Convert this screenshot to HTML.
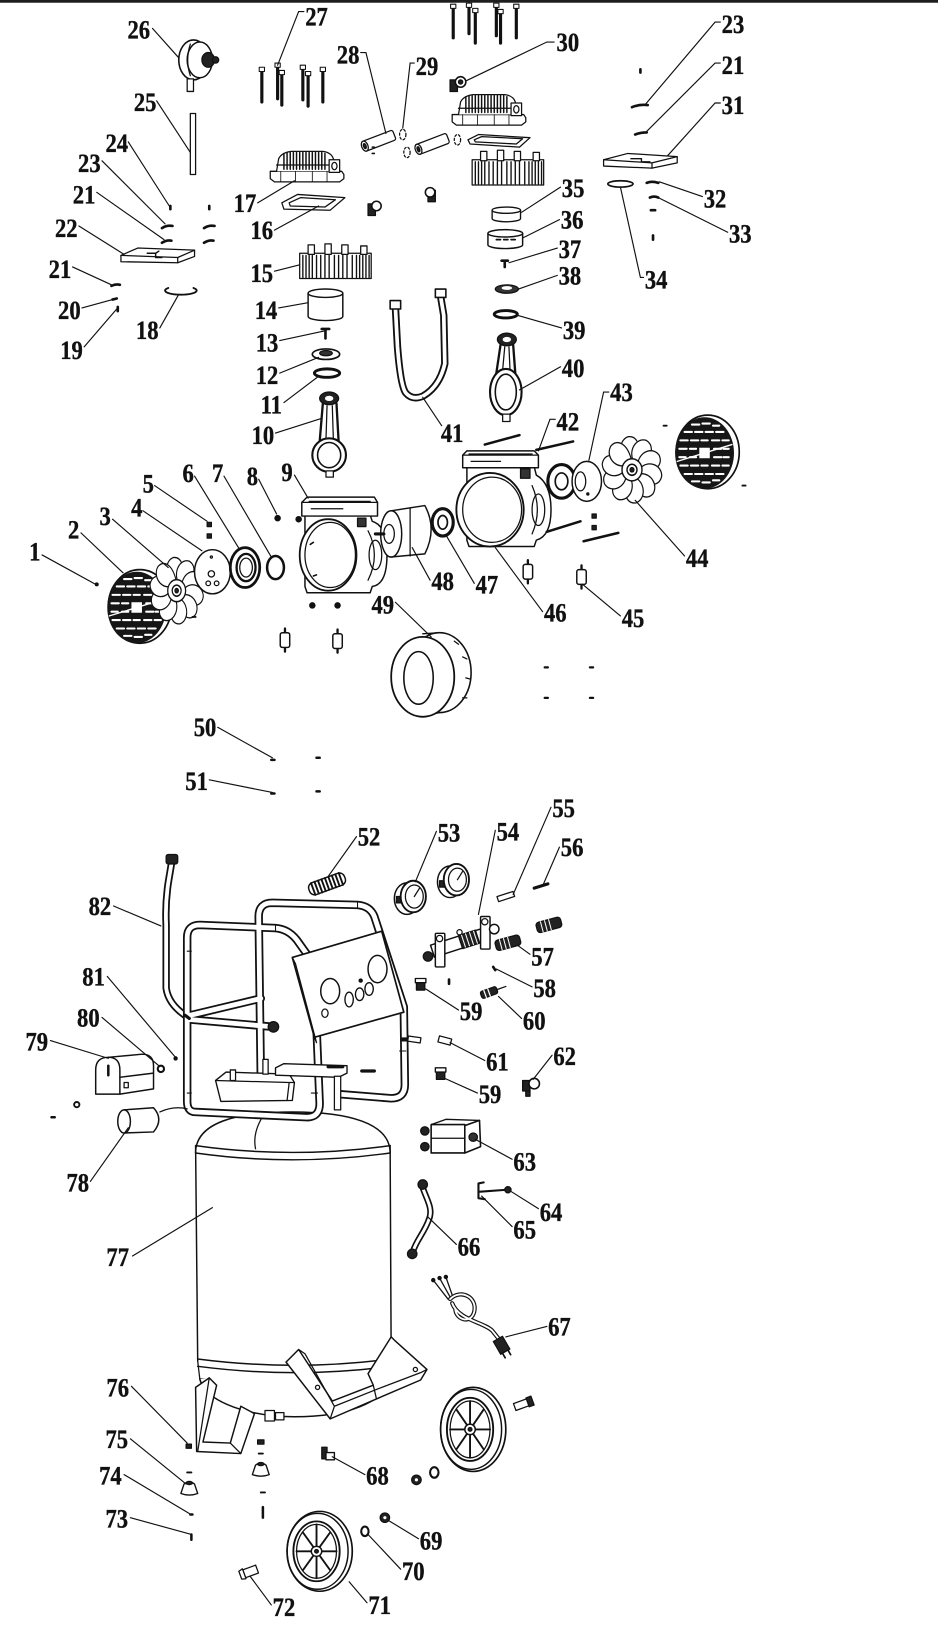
<!DOCTYPE html>
<html><head><meta charset="utf-8"><style>
html,body{margin:0;padding:0;background:#fff;}
svg{display:block;}
.t{font-family:"Liberation Serif",serif;font-weight:bold;font-size:25px;fill:#111;stroke:#111;stroke-width:0.35;}
</style></head><body>
<svg width="938" height="1648" viewBox="0 0 892 1568" preserveAspectRatio="none" xmlns="http://www.w3.org/2000/svg" xmlns:xlink="http://www.w3.org/1999/xlink">
<rect width="892" height="1568" fill="#fff"/>
<rect x="0" y="0" width="892" height="2.6" fill="#1e1e1e"/>
<defs>
 <g id="head">
  <path d="M0,20 L68,20 L70,23 L70,27 L66,30 L4,30 L0,27 Z" fill="#fff"/>
  <path d="M6,20 L8,8 Q11,2 20,1 L50,1 Q58,2 60,8 L62,20" fill="#fff"/>
  <path d="M13,3V18 M16,2.5V18 M19,2V18 M22,2V18 M25,2V18 M28,2V18 M31,2V18 M34,2V18 M37,2V18 M40,2V18 M43,2V18 M46,2V18 M49,2V18 M52,3V18" stroke-width="1.4"/>
  <path d="M6,14 H62"/>
  <rect x="56" y="9" width="10" height="12" fill="#fff"/>
  <ellipse cx="61" cy="15" rx="2.5" ry="3.5"/>
  <path d="M10,20 V30 M24,20V30 M40,20V30 M54,20V30" stroke-width="0.8"/>
 </g>
 <g id="vbox">
  <rect x="0" y="8" width="68" height="24" fill="#fff"/>
  <path d="M3,10V31 M6,10V31 M9,10V31 M12,10V31 M16,10V31 M20,10V31 M24,10V31 M28,10V31 M33,10V31 M37,10V31 M41,10V31 M45,10V31 M50,10V31 M54,10V31 M57,10V31 M60,10V31 M63,10V31 M66,10V31" stroke-width="1.3"/>
  <rect x="8" y="0" width="6" height="9" fill="#fff"/>
  <rect x="24" y="-1" width="6" height="10" fill="#fff"/>
  <rect x="40" y="0" width="6" height="9" fill="#fff"/>
  <rect x="58" y="1" width="6" height="8" fill="#fff"/>
 </g>
 <g id="grille">
  <ellipse cx="3" cy="-1" rx="30" ry="35" fill="#fff" stroke-width="1.6"/>
  <ellipse cx="0" cy="0" rx="28" ry="34" fill="#161616" stroke="none"/>
  <path d="M-12,-27h7 M-2,-28h7 M8,-26h6 M-19,-20h7 M-9,-20h7 M1,-20h7 M11,-20h7 M-23,-12h7 M-13,-12h7 M-3,-12h6 M7,-12h7 M17,-12h6 M-24,-4h7 M-14,-4h6 M9,-4h7 M18,-4h5 M-24,4h6 M-14,4h6 M9,4h7 M18,4h5 M-23,12h7 M-13,12h7 M-3,12h6 M7,12h7 M17,12h6 M-19,20h7 M-9,20h7 M1,20h7 M11,20h7 M-12,27h7 M-2,28h7 M8,26h6" stroke="#fff" stroke-width="2"/>
  <path d="M-26,8 Q0,0 26,-8" stroke="#fff" stroke-width="1.3"/>
  <rect x="-5" y="-5" width="10" height="10" fill="#fff" stroke="none"/>
 </g>
 <path id="blade" d="M-5,-8 C-14,-14 -13,-27 -4,-30 C5,-31 10,-22 5,-8 Z" fill="#fff"/>
 <g id="fan">
  <use href="#blade"/>
  <use href="#blade" transform="rotate(36)"/>
  <use href="#blade" transform="rotate(72)"/>
  <use href="#blade" transform="rotate(108)"/>
  <use href="#blade" transform="rotate(144)"/>
  <use href="#blade" transform="rotate(180)"/>
  <use href="#blade" transform="rotate(216)"/>
  <use href="#blade" transform="rotate(252)"/>
  <use href="#blade" transform="rotate(288)"/>
  <use href="#blade" transform="rotate(324)"/>
  <circle r="10" fill="#fff" stroke-width="1.4"/>
  <circle r="5" fill="#fff" stroke-width="1.4"/>
  <circle r="2" fill="#222"/>
 </g>
 <g id="mount">
  <path d="M0,-11V-7 M0,7V11" stroke-width="2.2"/>
  <rect x="-4.5" y="-7" width="9" height="14" rx="2" fill="#fff" stroke-width="1.4"/>
 </g>
 <g id="wheel">
  <ellipse cx="2" cy="0" rx="31" ry="40" fill="#fff" stroke-width="1.6"/>
  <ellipse cx="0" cy="0" rx="29" ry="38" stroke-width="1.4"/>
  <ellipse cx="-1" cy="0" rx="22" ry="30" stroke-width="1.8"/>
  <ellipse cx="-1" cy="0" rx="19" ry="27"/>
  <path d="M-1,-27V27 M-20,0H18 M-14,-19L12,19 M-14,19L12,-19" stroke-width="1.8"/>
  <circle cx="-1" cy="0" r="5" fill="#fff" stroke-width="1.4"/>
  <circle cx="-1" cy="0" r="1.8" fill="#222"/>
 </g>
 <g id="foot">
  <path d="M-8,5 L-5,-4 Q0,-8 5,-4 L8,5 Q0,8 -8,5 Z" fill="#fff" stroke-width="1.3"/>
  <ellipse cx="0" cy="-5" rx="3" ry="1.5" fill="#222"/>
 </g>
</defs>

<g stroke="#111" fill="none" stroke-width="1.2" stroke-linecap="round" stroke-linejoin="round">
<ellipse cx="184" cy="57" rx="14" ry="19" fill="#fff" stroke-width="1.5"/>
<ellipse cx="190" cy="57" rx="12" ry="17" fill="#fff" stroke-width="1.4"/>
<path d="M181,42 Q176,57 181,72"/>
<ellipse cx="198" cy="57" rx="6" ry="7" fill="#222"/>
<circle cx="205" cy="57" r="3" fill="#222"/>
<rect x="178" y="75" width="6" height="12" fill="#fff"/>
<rect x="181" y="108" width="5" height="58" fill="#fff"/>
<path d="M249,67V97 M264,63V94 M268,70V100 M288,65V95 M293,71V101 M307,67V97 M431,6V36 M446,4V32 M452,11V41 M472,5V34 M476,12V41 M491,6V36" stroke-width="3"/>
<path fill="#fff" stroke-width="1" d="M246.5,64h5v4h-5z M261.5,60h5v4h-5z M265.5,67h5v4h-5z M285.5,62h5v4h-5z M290.5,68h5v4h-5z M304.5,64h5v4h-5z M428.5,4h5v4h-5z M443.5,3h5v4h-5z M449.5,8h5v4h-5z M469.5,3h5v4h-5z M473.5,9h5v4h-5z M488.5,4h5v4h-5z"/>
<rect x="428" y="76" width="7" height="11" fill="#222"/>
<circle cx="438" cy="78" r="5" fill="#fff" stroke-width="1.5"/>
<circle cx="438" cy="78" r="2" fill="#222"/>
<use href="#head" transform="translate(430,89)"/>
<use href="#head" transform="translate(257,143)"/>
<path d="M445,133 L455,128 L504,131 L494,140 L447,137 Z" fill="#fff"/>
<path d="M451,133 L458,130 L497,132 L491,137 L452,135 Z"/>
<path d="M268,193 L283,185 L328,188 L314,200 L270,199 Z" fill="#fff"/>
<path d="M275,193 L286,188 L319,190 L309,197 L276,196 Z"/>
<use href="#vbox" transform="translate(449,144)"/>
<use href="#vbox" transform="translate(285,233)"/>
<g transform="translate(360,134) rotate(-21)"><rect x="-16" y="-5" width="32" height="10" rx="2" fill="#fff"/><ellipse cx="-14" cy="0" rx="3" ry="5" fill="#fff"/><ellipse cx="-14" cy="0" rx="1.2" ry="2.5" fill="#222"/></g>
<g transform="translate(411,137) rotate(-21)"><rect x="-16" y="-5" width="32" height="10" rx="2" fill="#fff"/><ellipse cx="-14" cy="0" rx="3" ry="5" fill="#fff"/><ellipse cx="-14" cy="0" rx="1.2" ry="2.5" fill="#222"/></g>
<g stroke-dasharray="2 2"><ellipse cx="383" cy="128" rx="3" ry="5"/><ellipse cx="387" cy="145" rx="3" ry="5"/><ellipse cx="435" cy="133" rx="3" ry="5"/></g>
<path d="M354,140h2 M354,146h2" stroke-width="1.5"/>
<rect x="350" y="194" width="7" height="11" fill="#222"/><circle cx="358" cy="196" r="4.5" fill="#fff" stroke-width="1.5"/>
<rect x="407" y="181" width="7" height="11" fill="#222"/><circle cx="409" cy="183" r="4.5" fill="#fff" stroke-width="1.5"/>
<path d="M293,279 V301 A16.5,4 0 0 0 326,301 V279" fill="#fff" stroke-width="1.4"/>
<ellipse cx="309.5" cy="279" rx="16.5" ry="4" fill="#fff" stroke-width="1.4"/>
<path d="M306,313 h7 M309.5,313 v9" stroke-width="2.5"/>
<ellipse cx="310" cy="337" rx="13" ry="5" fill="#fff" stroke-width="1.6"/>
<ellipse cx="310" cy="336" rx="6" ry="2.5" fill="#333"/>
<ellipse cx="311" cy="355" rx="12" ry="4" stroke-width="2.8"/>
<path d="M307,384 L304,420 M320,384 L322,420" stroke-width="2.2"/>
<path d="M311,386 L310,418 M316,386 L317,418"/>
<ellipse cx="313" cy="379" rx="9" ry="6" fill="#222"/>
<ellipse cx="313" cy="379" rx="4" ry="2.5" fill="#fff" stroke="none"/>
<ellipse cx="313" cy="433" rx="16" ry="16" fill="#fff" stroke-width="2"/>
<ellipse cx="313" cy="433" rx="11" ry="12" stroke-width="1.5"/>
<rect x="310" y="448" width="7" height="6" fill="#fff"/>
<path d="M115,243 L131,236 L185,238 L185,244 L169,250 L115,249 Z" fill="#fff"/>
<path d="M115,243 L169,245 L185,238 M169,245 L169,250"/>
<path d="M140,241 h8 v4 h6 M148,241 l3,-2" stroke-width="1.4"/>
<path d="M162,196v3 M199,196v3 M154,217 q5,-3 10,-2 M194,217 q5,-3 10,-2 M154,231 q5,-3 9,-2 M194,231 q5,-3 9,-2 M106,272 q4,-2 8,-1 M107,285 l4,-1 M112,292 v4" stroke-width="2.5"/>
<path d="M160,274 A15,4 0 1 0 184,274" stroke-width="1.8"/>
<path d="M609,66v3 M601,102 q7,-3 15,-2 M604,128 q5,-2 11,-2 M615,174 q5,-2 11,0 M618,188 q4,-2 8,0 M619,200 h4 M621,224 v4" stroke-width="2.5"/>
<path d="M574,152 L597,146 L644,149 L644,155 L620,160 L574,158 Z" fill="#fff"/>
<path d="M574,152 L620,155 L644,149 M620,155 V160"/>
<path d="M600,151 h10 v3 h8" stroke-width="1.3"/>
<ellipse cx="590" cy="175" rx="12" ry="3" stroke-width="1.6"/>
<path d="M468,200 V208 A13.5,3 0 0 0 495,208 V200" fill="#fff" stroke-width="1.3"/>
<ellipse cx="481.5" cy="200" rx="13.5" ry="3" fill="#fff" stroke-width="1.3"/>
<path d="M464,222 V233 A16.5,3.5 0 0 0 497,233 V222" fill="#fff" stroke-width="1.4"/>
<ellipse cx="480.5" cy="222" rx="16.5" ry="3.5" fill="#fff" stroke-width="1.4"/>
<path d="M472,228 h4 M479,228 h4 M486,228 h4" stroke-width="1.6"/>
<path d="M477,248 h6 M480,248 v6" stroke-width="2.5"/>
<ellipse cx="482" cy="275" rx="11" ry="4" fill="#333"/>
<ellipse cx="482" cy="274" rx="5" ry="1.8" fill="#fff" stroke="none"/>
<ellipse cx="481" cy="299" rx="11" ry="3.5" stroke-width="2.8"/>
<path d="M476,328 L472,355 M488,328 L490,355" stroke-width="2.2"/>
<path d="M480,330 L478,352 M484,330 L485,352"/>
<ellipse cx="482" cy="323" rx="9" ry="6" fill="#222"/>
<ellipse cx="482" cy="323" rx="4" ry="2.5" fill="#fff" stroke="none"/>
<ellipse cx="481" cy="373" rx="15" ry="22" fill="#fff" stroke-width="2"/>
<ellipse cx="481" cy="373" rx="10" ry="17" stroke-width="1.5"/>
<rect x="478" y="394" width="7" height="7" fill="#fff"/>
<path d="M376,292 L378,330 Q381,368 386,374 Q392,381 402,377 Q418,368 423,346 L422,300 L419,282" stroke-width="7"/>
<path d="M376,292 L378,330 Q381,368 386,374 Q392,381 402,377 Q418,368 423,346 L422,300 L419,282" stroke="#fff" stroke-width="3.5"/>
<rect x="371" y="286" width="10" height="8" fill="#fff" stroke-width="1.5"/>
<rect x="414" y="275" width="10" height="8" fill="#fff" stroke-width="1.5"/>

<use href="#grille" transform="translate(130,578)"/>
<use href="#fan" transform="translate(168,562) scale(0.85,1.05)"/>
<ellipse cx="202" cy="544" rx="17" ry="21" fill="#fff" stroke-width="1.4"/>
<circle cx="201" cy="546" r="3"/><circle cx="198" cy="555" r="2.2"/><circle cx="206" cy="555" r="2.2"/><circle cx="201" cy="530" r="1"/>
<rect x="197" y="497" width="4" height="4" fill="#222"/><rect x="197" y="508" width="4" height="4" fill="#222"/>
<ellipse cx="233" cy="540" rx="14" ry="19" fill="#fff" stroke-width="2.6"/>
<ellipse cx="234" cy="540" rx="9" ry="13" stroke-width="2.2"/>
<ellipse cx="234" cy="540" rx="6" ry="9"/>
<ellipse cx="262" cy="540" rx="8" ry="11" stroke-width="2.4"/>
<circle cx="264" cy="493" r="2.5" fill="#111"/><circle cx="284" cy="494" r="2.5" fill="#111"/>
<path d="M183,587h3" stroke-width="1.8"/>
<circle cx="92" cy="556" r="1.3" fill="#111"/>
<path d="M290,490 L352,490 L354,496 Q368,500 368,528 Q368,556 354,558 L352,564 L292,564 L290,558 Z" fill="#fff" stroke-width="1.4"/>
<path d="M287,478 L292,473 L356,473 L359,478 L359,491 L287,491 Z" fill="#fff" stroke-width="1.4"/>
<path d="M294,477 L352,477 M296,484 h30 M287,478 L359,478"/>
<rect x="340" y="493" width="8" height="8" fill="#333"/>
<ellipse cx="312" cy="528" rx="27" ry="34" fill="#fff" stroke-width="1.7"/>
<ellipse cx="314" cy="528" rx="24" ry="31"/>
<path d="M350,505 Q362,528 350,552"/>
<ellipse cx="357" cy="528" rx="6" ry="14"/>
<path d="M295,518 l3,-2 M298,548 l3,-1" stroke-width="1.5"/>
<circle cx="297" cy="576" r="2.5" fill="#111"/><circle cx="321" cy="576" r="2.5" fill="#111"/>
<use href="#mount" transform="translate(271,609)"/>
<use href="#mount" transform="translate(321,610)"/>
<path d="M372,486 L404,481 Q416,503 404,527 L372,530" fill="#fff" stroke-width="1.4"/>
<ellipse cx="372" cy="508" rx="10" ry="22" fill="#fff" stroke-width="1.4"/>
<ellipse cx="370" cy="508" rx="5" ry="9"/>
<path d="M365,508 h-8" stroke-width="3"/>
<path d="M390,484 L390,529"/>
<ellipse cx="421" cy="497" rx="10" ry="13" fill="#fff" stroke-width="3"/>
<ellipse cx="421" cy="497" rx="4.5" ry="6.5" stroke-width="1.6"/>
<path d="M444,444 L508,444 L510,452 Q524,460 524,485 Q524,510 510,514 L508,520 L446,520 L444,514 Z" fill="#fff" stroke-width="1.4"/>
<path d="M440,433 L444,429 L508,429 L512,433 L512,445 L440,445 Z" fill="#fff" stroke-width="1.4"/>
<path d="M446,432 L506,432 M440,433 L512,433 M448,439 h28"/>
<rect x="495" y="446" width="9" height="9" fill="#333"/>
<ellipse cx="466" cy="485" rx="32" ry="35" fill="#fff" stroke-width="1.8"/>
<ellipse cx="468" cy="485" rx="28" ry="31"/>
<path d="M506,462 Q516,485 506,508"/>
<ellipse cx="512" cy="485" rx="6" ry="15"/>
<path d="M461,423 L494,414 M510,428 L545,420 M520,506 L552,496 M555,515 L588,507" stroke-width="2.4"/>
<rect x="563" y="489" width="4" height="4" fill="#222"/><rect x="563" y="500" width="4" height="4" fill="#222"/>
<use href="#mount" transform="translate(502,544)"/>
<use href="#mount" transform="translate(553,549)"/>
<path d="M534,458 L558,458" stroke-width="4"/>
<ellipse cx="534" cy="458" rx="13" ry="16" fill="#fff" stroke-width="3"/>
<ellipse cx="534" cy="458" rx="6" ry="8" stroke-width="1.6"/>
<ellipse cx="558" cy="458" rx="14" ry="19" fill="#fff" stroke-width="1.4"/>
<ellipse cx="552" cy="458" rx="5" ry="9" fill="#fff"/>
<circle cx="559" cy="470" r="1" fill="#111"/>
<use href="#fan" transform="translate(601,447) scale(0.95,1.05)"/>
<use href="#grille" transform="translate(670,431)"/>
<path d="M631,405h3 M706,462h3" stroke-width="1.8"/>
<ellipse cx="418" cy="640" rx="30" ry="38" fill="#fff" stroke-width="1.5"/>
<path d="M402,603 L418,602 M400,682 L418,678" stroke-width="1.3"/>
<ellipse cx="402" cy="644" rx="30" ry="38" fill="#fff" stroke-width="1.7"/>
<ellipse cx="398" cy="645" rx="14" ry="25" stroke-width="1.5"/>
<path d="M432,610 l4,3 M440,625 l4,2 M443,645 l4,1 M440,664 l4,0"/>
<path d="M518,635h3 M561,635h3 M518,664h3 M561,664h3" stroke-width="2.2"/>
<path d="M258,723h3 M301,721h3 M258,755h3 M301,753h3" stroke-width="2.4"/>

<path d="M186,1097 C186,1068 225,1058 278,1058 C330,1058 371,1068 371,1097" fill="#fff" stroke-width="1.4"/>
<path d="M186,1097 L188,1295 L372,1295 L371,1097 Z" fill="#fff" stroke="none"/>
<path d="M186,1090 Q278,1103 371,1090 M186,1097 Q278,1110 371,1097" stroke-width="1.4"/>
<path d="M250,1062 Q240,1078 243,1093"/>
<path d="M186,1090 L188,1295 M371,1090 L372,1295" stroke-width="1.4"/>
<path d="M188,1293 Q280,1305 372,1293 M188,1300 Q280,1312 372,1300 M190,1312 Q280,1324 374,1310" stroke-width="1.4"/>
<path d="M188,1295 L190,1312 M372,1295 L374,1310"/>
<path d="M190,1312 C195,1335 240,1348 280,1348 C330,1348 365,1335 374,1310" fill="#fff" stroke-width="1.4"/>
<path d="M186,1320 L199,1311 L206,1318 L193,1372 L219,1373 L229,1338 L242,1345 L229,1383 L187,1381 Z" fill="#fff" stroke-width="1.4"/>
<path d="M199,1311 L188,1381 M219,1373 L229,1383"/>
<path d="M272,1296 L284,1284 L316,1333 L355,1318 L350,1307 L372,1272 L376,1276 L406,1303 L400,1313 L358,1331 L314,1350 Z" fill="#fff" stroke-width="1.4"/>
<path d="M284,1284 L290,1288 L318,1338 L314,1350 M355,1318 L358,1331 M318,1338 L358,1322 L400,1306 L406,1303"/>
<circle cx="302" cy="1320" r="2"/><circle cx="395" cy="1303" r="2"/>
<rect x="252" y="1342" width="9" height="10" fill="#fff"/><rect x="262" y="1344" width="8" height="7" fill="#fff"/>
<path d="M163,822 L160,840 Q157,860 158,880 L158,940 Q160,955 176,966" stroke-width="7"/>
<path d="M163,822 L160,840 Q157,860 158,880 L158,940 Q160,955 176,966" stroke="#fff" stroke-width="3.6"/>
<rect x="158" y="813" width="11" height="9" rx="2" fill="#222"/>
<path d="M186,1058 Q178,1058 178,1048 L178,892 Q178,880 190,880 L262,883 Q274,884 282,894 L292,908 Q298,916 299,930 L304,1050 Q304,1063 292,1063 Z M248,1024 L246,872 Q246,859 259,859 L340,861 Q352,862 356,872 L384,958 L385,1032 Q385,1045 372,1045 L322,1041 M180,970 L260,977 M181,966 L248,950" stroke-width="8"/>
<path d="M186,1058 Q178,1058 178,1048 L178,892 Q178,880 190,880 L262,883 Q274,884 282,894 L292,908 Q298,916 299,930 L304,1050 Q304,1063 292,1063 Z M248,1024 L246,872 Q246,859 259,859 L340,861 Q352,862 356,872 L384,958 L385,1032 Q385,1045 372,1045 L322,1041 M180,970 L260,977 M181,966 L248,950" stroke="#fff" stroke-width="4.6"/>
<path d="M178,905h4 M178,1040h4 M262,880v6 M340,858v6 M380,1000h6 M296,1040h6" stroke-width="1"/>
<circle cx="260" cy="977" r="5" fill="#222"/>
<path d="M176,966 l4,3" stroke-width="3"/>
<path d="M278,911 L363,886 L384,963 L299,987 Z" fill="#fff" stroke-width="1.6"/>
<path d="M278,911 L281,917 L301,992 L299,987"/>
<ellipse cx="314" cy="943" rx="9" ry="12" stroke-width="1.4"/>
<ellipse cx="359" cy="922" rx="9" ry="13" stroke-width="1.4"/>
<ellipse cx="332" cy="951" rx="4" ry="7" stroke-width="1.3"/>
<ellipse cx="342" cy="946" rx="4" ry="6" stroke-width="1.3"/>
<ellipse cx="351" cy="941" rx="4" ry="6" stroke-width="1.3"/>
<ellipse cx="309" cy="964" rx="3" ry="4"/>
<circle cx="343" cy="933" r="1.5" fill="#111"/>
<path d="M205,1028 L215,1020 L275,1022 L280,1030 L278,1047 L210,1048 Z" fill="#fff" stroke-width="1.3"/>
<path d="M205,1028 L275,1030 L280,1030 M275,1030 L273,1047"/>
<path d="M262,1016 L270,1012 L330,1014 L330,1021 L322,1025 L262,1023 Z" fill="#fff" stroke-width="1.3"/>
<rect x="219" y="1018" width="5" height="10" fill="#fff"/>
<rect x="250" y="1008" width="5" height="14" fill="#fff"/>
<rect x="318" y="1024" width="6" height="32" fill="#fff"/>
<path d="M312,1015 h14 M344,1019 h12" stroke-width="3"/>
<path d="M383,989 h10" stroke-width="4"/>
<path d="M91,1041 L91,1018 Q91,1006 103,1006 Q114,1006 114,1018 L114,1041 Z" fill="#fff" stroke-width="1.4"/>
<path d="M103,1006 L135,1003 Q146,1003 146,1014 L146,1036 L114,1041 M114,1025 L146,1021" stroke-width="1.4"/>
<path d="M103,1014 v9" stroke-width="2.4"/>
<rect x="118" y="1030" width="4" height="5" fill="#fff"/>
<circle cx="153" cy="1017" r="3" fill="#fff" stroke-width="2"/>
<circle cx="167" cy="1007" r="1.5" fill="#111"/>
<circle cx="73" cy="1051" r="2.5" stroke-width="1.8"/>
<path d="M49,1063h3" stroke-width="2.4"/>
<path d="M118,1056 L146,1054 Q156,1065 146,1077 L118,1078" fill="#fff" stroke-width="1.4"/>
<ellipse cx="118" cy="1067" rx="6" ry="11" fill="#fff" stroke-width="1.4"/>
<path d="M152,1058 Q165,1052 178,1055"/>
<g transform="translate(311,841) rotate(-20)">
<rect x="-18" y="-6" width="36" height="12" rx="5" fill="#fff" stroke-width="1.4"/>
<path d="M-14,-6V6 M-10.5,-6V6 M-7,-6V6 M-3.5,-6V6 M0,-6V6 M3.5,-6V6 M7,-6V6 M10.5,-6V6 M14,-6V6" stroke-width="1.8"/>
</g>
<ellipse cx="387" cy="855" rx="12" ry="15" fill="#fff" stroke-width="1.4"/>
<rect x="377" y="853" width="5" height="6" fill="#222"/>
<ellipse cx="393" cy="853" rx="12" ry="15" fill="#fff" stroke-width="1.8"/>
<ellipse cx="394" cy="853" rx="8.5" ry="11"/>
<path d="M394,853 L399,845"/>
<ellipse cx="428" cy="839" rx="12" ry="15" fill="#fff" stroke-width="1.4"/>
<rect x="418" y="838" width="5" height="6" fill="#222"/>
<ellipse cx="434" cy="837" rx="12" ry="15" fill="#fff" stroke-width="1.8"/>
<ellipse cx="435" cy="837" rx="8.5" ry="11"/>
<path d="M435,837 L440,829"/>
<g transform="translate(436,897) rotate(-18)">
<rect x="-26" y="-6" width="52" height="12" fill="#fff" stroke-width="1.4"/>
<rect x="2" y="-6.5" width="17" height="13" fill="#222"/>
<path d="M5,-6V6 M9,-6V6 M13,-6V6 M17,-6V6" stroke="#fff" stroke-width="1"/>
</g>
<rect x="414" y="888" width="9" height="32" rx="1" fill="#fff" stroke-width="1.4"/>
<rect x="457" y="872" width="9" height="31" rx="1" fill="#fff" stroke-width="1.4"/>
<circle cx="418" cy="893" r="3"/><circle cx="461" cy="877" r="3"/>
<circle cx="407" cy="910" r="4.5" fill="#222"/>
<circle cx="470" cy="884" r="4.5" fill="#fff" stroke-width="1.4"/>
<circle cx="437" cy="887" r="2.5" fill="#fff"/>
<g transform="translate(481,853) rotate(-18)"><rect x="-8" y="-2.5" width="16" height="5" fill="#fff"/></g>
<path d="M508,845 L521,841" stroke-width="3"/>
<g transform="translate(522,880) rotate(-15)"><rect x="-12" y="-5" width="24" height="10" rx="3" fill="#222"/><path d="M-7,-5V5 M-3,-5V5 M1,-5V5" stroke="#fff" stroke-width="1"/></g>
<g transform="translate(483,897) rotate(-15)"><rect x="-12" y="-5" width="24" height="10" rx="3" fill="#222"/><path d="M-7,-5V5 M-3,-5V5 M1,-5V5" stroke="#fff" stroke-width="1"/></g>
<path d="M469,920 l2,3 M427,932 v4" stroke-width="2.5"/>
<rect x="396" y="934" width="8" height="8" fill="#222"/><rect x="395" y="931" width="10" height="4" fill="#fff" stroke-width="1.3"/>
<rect x="415" y="1019" width="8" height="8" fill="#222"/><rect x="414" y="1016" width="10" height="4" fill="#fff" stroke-width="1.3"/>
<g transform="translate(466,944) rotate(-20)"><rect x="-9" y="-3.5" width="16" height="7" rx="2" fill="#222"/><path d="M-5,-3.5V3.5 M-1,-3.5V3.5" stroke="#fff"/><path d="M7,0 h9"/></g>
<g transform="translate(394,989) rotate(8)"><rect x="-6" y="-2.5" width="12" height="5" fill="#fff"/></g>
<g transform="translate(423,990) rotate(15)"><rect x="-6" y="-3" width="12" height="6" fill="#fff"/></g>
<rect x="497" y="1028" width="7" height="10" fill="#222"/>
<circle cx="508" cy="1031" r="5" fill="#fff" stroke-width="1.5"/>
<rect x="500" y="1038" width="4" height="5" fill="#222"/>
<path d="M410,1070 L424,1065 L456,1066 L442,1071 Z" fill="#fff" stroke-width="1.3"/>
<rect x="410" y="1070" width="32" height="27" fill="#fff" stroke-width="1.5"/>
<path d="M442,1071 L456,1066 L457,1091 L442,1097 Z" fill="#fff" stroke-width="1.5"/>
<path d="M410,1083 H442"/>
<circle cx="404" cy="1076" r="4" fill="#222"/><circle cx="404" cy="1091" r="4" fill="#222"/>
<circle cx="450" cy="1082" r="4" fill="#333"/>
<path d="M460,1125 L455,1126 L455,1140 L461,1141 M455,1134 L482,1132" stroke-width="2"/>
<circle cx="483" cy="1132" r="3" fill="#222"/>
<path d="M402,1130 C406,1142 412,1150 408,1160 C404,1172 396,1180 393,1190" stroke-width="6"/>
<path d="M402,1130 C406,1142 412,1150 408,1160 C404,1172 396,1180 393,1190" stroke="#fff" stroke-width="2.8"/>
<circle cx="402" cy="1127" r="4.5" fill="#222"/><circle cx="392" cy="1193" r="4.5" fill="#222"/>
<path d="M412,1218 L426,1236 M418,1216 L428,1234 M424,1215 L430,1232"/>
<circle cx="412" cy="1218" r="1.5" fill="#111"/><circle cx="418" cy="1216" r="1.5" fill="#111"/><circle cx="424" cy="1215" r="1.5" fill="#111"/>
<path d="M428,1236 C438,1226 454,1234 451,1248 C448,1260 434,1256 433,1246 M430,1240 C436,1256 460,1258 468,1266 L476,1276" stroke-width="4"/>
<path d="M428,1236 C438,1226 454,1234 451,1248 C448,1260 434,1256 433,1246 M430,1240 C436,1256 460,1258 468,1266 L476,1276" stroke="#fff" stroke-width="1.8"/>
<g transform="translate(477,1280) rotate(60)"><rect x="-7" y="-5" width="14" height="10" fill="#222"/><path d="M7,-3 h5 M7,3 h5" stroke-width="1.6"/></g>
<use href="#wheel" transform="translate(448,1360)"/>
<use href="#wheel" transform="translate(302,1476) scale(1,0.95)"/>
<g transform="translate(497,1336) rotate(-20)"><rect x="-8" y="-3.5" width="14" height="7" fill="#fff"/><rect x="5" y="-4.5" width="5" height="9" fill="#222"/></g>
<g transform="translate(236,1496) rotate(-20)"><rect x="-4" y="-4" width="13" height="8" fill="#fff"/><path d="M-8,-4 L-4,-5 L-4,5 L-8,4 Z" fill="#fff"/></g>
<circle cx="396" cy="1408" r="4.5" fill="#222"/><circle cx="396" cy="1408" r="1.5" fill="#fff" stroke="none"/>
<ellipse cx="413" cy="1401" rx="4" ry="5" stroke-width="2"/>
<circle cx="366" cy="1444" r="4.5" fill="#222"/><circle cx="366" cy="1444" r="1.5" fill="#fff" stroke="none"/>
<ellipse cx="347" cy="1457" rx="3.5" ry="4.5" stroke-width="2"/>
<rect x="306" y="1377" width="5" height="11" fill="#222"/>
<rect x="310" y="1382" width="8" height="7" fill="#fff" stroke-width="1.3"/>
<rect x="177" y="1374" width="5" height="4" fill="#222"/>
<path d="M178,1401h4" stroke-width="1.8"/>
<use href="#foot" transform="translate(180,1416)"/>
<path d="M181,1441h2 M182,1460v5" stroke-width="2.4"/>
<rect x="245" y="1370" width="6" height="4" fill="#222"/>
<path d="M246,1383h4 M248,1420h4" stroke-width="1.8"/>
<use href="#foot" transform="translate(248,1398)"/>
<path d="M250,1434v10" stroke-width="2.4"/>
</g>

<path stroke="#111" fill="none" stroke-width="1.1" stroke-linecap="round" d="M289,11 L284,11 L264,62 M145,27 L170,55 M527,40 L520,40 L443,77 M343,50 L348,50 L367,127 M394,60 L390,60 L383,122 M685,21 L680,21 L614,99 M685,60 L680,60 L614,126 M685,98 L680,98 L635,148 M149,96 L181,145 M122,135 L161,196 M97,153 L157,213 M92,183 L156,228 M75,215 L118,242 M245,193 L280,172 M261,219 L303,196 M261,258 L285,252 M265,293 L293,288 M266,324 L308,315 M266,355 L303,340 M270,383 L303,358 M262,412 L306,398 M69,254 L106,271 M78,293 L107,285 M80,330 L111,294 M152,312 L170,280 M533,178 L496,202 M532,209 L498,226 M530,236 L484,250 M530,262 L493,275 M668,187 L627,173 M692,221 L626,188 M612,264 L609,264 L590,178 M534,312 L492,300 M533,349 L494,371 M420,405 L402,378 M579,373 L574,373 L560,438 M528,399 L523,399 L512,429 M280,452 L293,474 M246,456 L263,489 M213,453 L258,530 M185,453 L228,523 M147,462 L197,496 M136,486 L192,524 M107,494 L160,540 M77,507 L117,545 M40,528 L91,556 M651,529 L604,476 M409,552 L392,521 M451,555 L424,509 M516,582 L471,521 M590,586 L554,556 M376,573 L410,606 M207,692 L259,721 M199,742 L259,754 M339,796 L312,834 M415,791 L395,839 M471,790 L455,870 M524,768 L488,851 M532,806 L516,843 M504,908 L493,900 M506,939 L472,922 M436,961 L405,941 M496,969 L474,948 M461,1009 L428,992 M525,1004 L507,1027 M454,1040 L423,1026 M487,1103 L452,1084 M512,1150 L485,1133 M487,1167 L458,1138 M434,1184 L407,1158 M520,1262 L481,1272 M108,862 L153,881 M102,929 L166,1005 M97,968 L151,1014 M48,990 L103,1007 M86,1124 L122,1073 M126,1195 L202,1149 M125,1319 L178,1373 M124,1369 L177,1412 M118,1403 L180,1440 M124,1444 L182,1460 M347,1403 L316,1386 M398,1464 L370,1447 M381,1493 L350,1460 M258,1527 L238,1500 M349,1525 L332,1505"/>

<g class="t" text-anchor="middle" transform="scale(0.86,1)">
<text x="350" y="24.5">27</text><text x="153.5" y="36.5">26</text><text x="627.9" y="48.5">30</text>
<text x="384.9" y="60.5">28</text><text x="472.1" y="71.5">29</text><text x="810.5" y="31.5">23</text>
<text x="810.5" y="70.5">21</text><text x="810.5" y="108.5">31</text><text x="160.5" y="105.5">25</text>
<text x="129.1" y="144.5">24</text><text x="98.8" y="163.5">23</text><text x="93" y="193.5">21</text>
<text x="73.3" y="225.5">22</text><text x="270.9" y="201.5">17</text><text x="289.5" y="227.5">16</text>
<text x="289.5" y="268.5">15</text><text x="294.2" y="303.5">14</text><text x="295.3" y="334.5">13</text>
<text x="295.3" y="365.5">12</text><text x="300" y="393.5">11</text><text x="290.7" y="422.5">10</text>
<text x="66.3" y="264.5">21</text><text x="76.7" y="303.5">20</text><text x="79.1" y="341.5">19</text>
<text x="162.8" y="322.5">18</text><text x="633.7" y="187.5">35</text><text x="632.6" y="217.5">36</text>
<text x="630.2" y="245.5">37</text><text x="630.2" y="270.5">38</text><text x="790.7" y="197.5">32</text>
<text x="818.6" y="230.5">33</text><text x="725.6" y="274.5">34</text><text x="634.9" y="322.5">39</text>
<text x="633.7" y="358.5">40</text><text x="500" y="420.5">41</text><text x="687.2" y="381.5">43</text>
<text x="627.9" y="409.5">42</text><text x="317.4" y="457.5">9</text><text x="279.1" y="461.5">8</text>
<text x="240.7" y="458.5">7</text><text x="208.1" y="458.5">6</text><text x="164" y="468.5">5</text>
<text x="151.2" y="491.5">4</text><text x="116.3" y="499.5">3</text><text x="81.4" y="512.5">2</text>
<text x="38.4" y="533.5">1</text><text x="770.9" y="539.5">44</text><text x="489.5" y="561.5">48</text>
<text x="538.4" y="564.5">47</text><text x="614" y="591.5">46</text><text x="700" y="596.5">45</text>
<text x="423.3" y="583.5">49</text><text x="226.7" y="700.5">50</text><text x="217.4" y="751.5">51</text>
<text x="408.1" y="804.5">52</text><text x="496.5" y="800.5">53</text><text x="561.6" y="799.5">54</text>
<text x="623.3" y="777.5">55</text><text x="632.6" y="814.5">56</text><text x="600" y="918.5">57</text>
<text x="602.3" y="948.5">58</text><text x="520.9" y="970.5">59</text><text x="590.7" y="979.5">60</text>
<text x="550" y="1018.5">61</text><text x="624.4" y="1013.5">62</text><text x="541.9" y="1049.5">59</text>
<text x="580.2" y="1113.5">63</text><text x="609.3" y="1161.5">64</text><text x="580.2" y="1178.5">65</text>
<text x="518.6" y="1194.5">66</text><text x="618.6" y="1270.5">67</text><text x="110.5" y="870.5">82</text>
<text x="103.5" y="937.5">81</text><text x="97.7" y="976.5">80</text><text x="40.7" y="999.5">79</text>
<text x="86" y="1133.5">78</text><text x="130.2" y="1204.5">77</text><text x="130.2" y="1328.5">76</text>
<text x="129.1" y="1377.5">75</text><text x="122.1" y="1412.5">74</text><text x="129.1" y="1453.5">73</text>
<text x="417.4" y="1412.5">68</text><text x="476.7" y="1474.5">69</text><text x="457" y="1503.5">70</text>
<text x="314" y="1537.5">72</text><text x="419.8" y="1535.5">71</text>
</g>
</svg>
</body></html>
